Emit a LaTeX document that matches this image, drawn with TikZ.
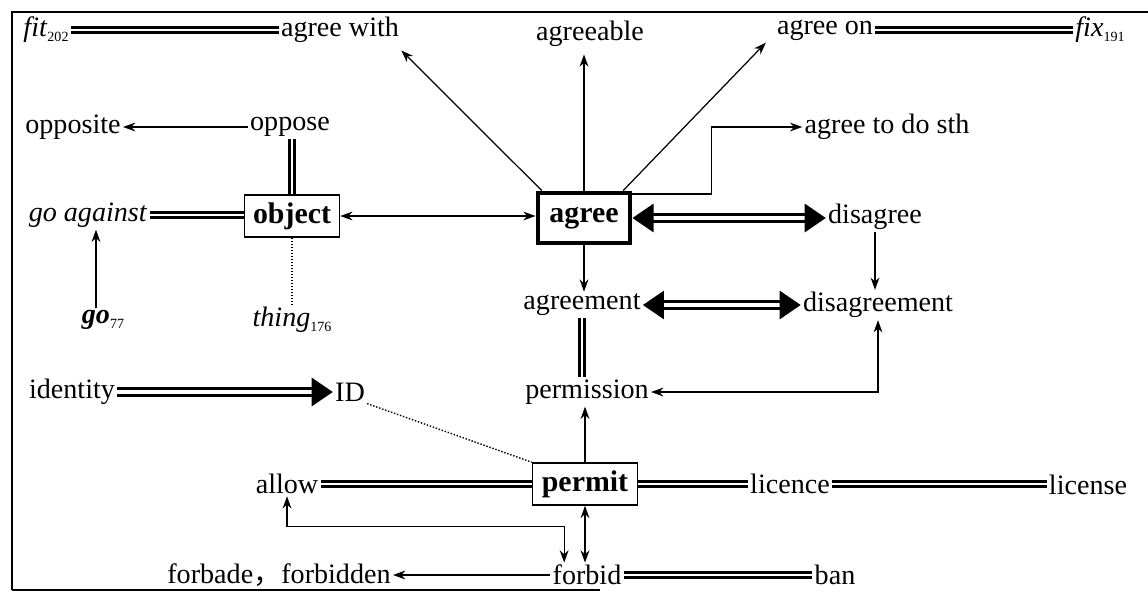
\documentclass[tikz,border=0pt]{standalone}
\usepackage{fontspec}
\setmainfont{Liberation Serif}
\newfontfamily\cjk{Noto Sans CJK SC}
\usepackage{tikz}
\usetikzlibrary{arrows.meta}
\newcommand{\wsize}{\fontsize{16}{18}\selectfont}
\newcommand{\ksize}{\fontsize{17}{19}\selectfont\bfseries}
\newcommand{\pg}[1]{\raisebox{-2.5pt}{\fontsize{8}{9}\selectfont #1}}
\tikzset{
  word/.style={inner sep=1pt, font=\wsize},
  key/.style={draw, font=\ksize, line width=0.9pt, minimum height=0.84cm, inner xsep=4pt},
  eq/.style={double, double distance=1.5pt, line width=1.3pt},
  big/.style={double, double distance=2pt, line width=1.6pt},
  bigtip/.tip={Triangle[length=12pt,width=16pt]}
  }
\begin{document}
\begin{tikzpicture}[x=0.02cm, y=-0.02cm, >={Stealth[length=7pt,width=5pt]}, line width=0.7pt]
  \useasboundingbox (0,0) rectangle (1148,595);
  \draw[line width=1pt] (12,590) -- (12,12) -- (1148,12);
  \draw[line width=1pt] (12,590) -- (600,590);
  % top row
  \node[word] (fit) at (46,30) {\textit{fit}\pg{202}};
  \node[word] (agreewith) at (340,30) {agree with};
  \node[word] (agreeable) at (590,34) {agreeable};
  \node[word] (agreeon) at (825,30) {agree on};
  \node[word] (fix) at (1100,30) {\textit{fix}\pg{191}};
  % second row
  \node[word] (opposite) at (73,127) {opposite};
  \node[word] (oppose) at (290,127) {oppose};
  \node[word] (agreeto) at (887,127) {agree to do sth};
  % key words
  \node[word] (goagainst) at (88,215) {\textit{go against}};
  \node[key, minimum width=1.9cm] (object) at (292,216) {object};
  \node[key, line width=2.8pt, minimum width=1.84cm, minimum height=1cm] (agree) at (584,218) {agree};
  \node[word] (disagree) at (875,217) {disagree};
  \node[word] (go) at (103,320) {\textbf{\textit{go}}\pg{77}};
  \node[word] (thing) at (292,320) {\textit{thing}\pg{176}};
  \node[word] (agreement) at (582,305) {agreement};
  \node[word] (disagreement) at (878,305) {disagreement};
  \node[word] (identity) at (72,392) {identity};
  \node[word] (ID) at (350,392) {ID};
  \node[word] (permission) at (587,392) {permission};
  \node[word] (allow) at (287,484) {allow};
  \node[key, minimum width=2.1cm] (permit) at (585,484) {permit};
  \node[word] (licence) at (790,484) {licence};
  \node[word] (license) at (1088,485) {license};
  \node[word] (forbidden) at (279,575) {forbade{\cjk ，}forbidden};
  \node[word] (forbid) at (587,575) {forbid};
  \node[word] (ban) at (835,575) {ban};
  % connectors
  \draw[eq] (fit.east) to (fit.east -| agreewith.west);
  \draw[eq] (agreeon.east) to (agreeon.east -| fix.west);
  \draw[->] (agree.147) to ([yshift=-3pt]agreewith.south east);
  \draw[->, shorten >=3pt] (agree.north) to (agree.north |- agreeable.south);
  \draw[->] (agree.35) to ([xshift=-5pt]agreeon.south west);
  \draw[->] ([yshift=-2pt]agree.north east) -- ++(79,0) |- (agreeto.west);
  \draw[->] (oppose) to (opposite);
  \draw[eq] (object.north) to (object.north |- oppose.south);
  \draw[eq] (goagainst.east) to (goagainst.east -| object.west);
  \draw[<->] (object.east) to (object.east -| agree.west);
  \draw[->] ([xshift=-4pt]go.north) to ([xshift=-4pt]go.north |- goagainst.south);
  \draw[densely dotted] (object.south) to (object.south |- thing.north);
  \draw[big, bigtip-bigtip] (agree.east) to (agree.east -| disagree.west);
  \draw[->] (agree.south) to (agree.south |- agreement.north);
  \draw[big, bigtip-bigtip] (agreement) to (disagreement);
  \draw[->] (disagree.south) to (disagree.south |- disagreement.north);
  \draw[eq] (agreement.south) to (agreement.south |- permission.north);
  \draw[<->] (disagreement.south) |- (permission.east);
  \draw[big, -bigtip] (identity.east) to (identity.east -| ID.west);
  \draw[densely dotted, line width=0.8pt] (ID.south east) to (permit.north west);
  \draw[->] (permit.north) to (permit.north |- permission.south);
  \draw[eq] (allow.east) to (allow.east -| permit.west);
  \draw[eq] (permit.east) to (permit.east -| licence.west);
  \draw[eq] (licence.east) to (licence.east -| license.west);
  \draw[<->] (permit.south) to (permit.south |- forbid.north);
  \draw[<->] (allow.south) -- ++(0,30) -| ([xshift=-13pt]forbid.north);
  \draw[->] (forbid) to (forbidden);
  \draw[eq] (forbid) to (ban);
\end{tikzpicture}
\end{document}
